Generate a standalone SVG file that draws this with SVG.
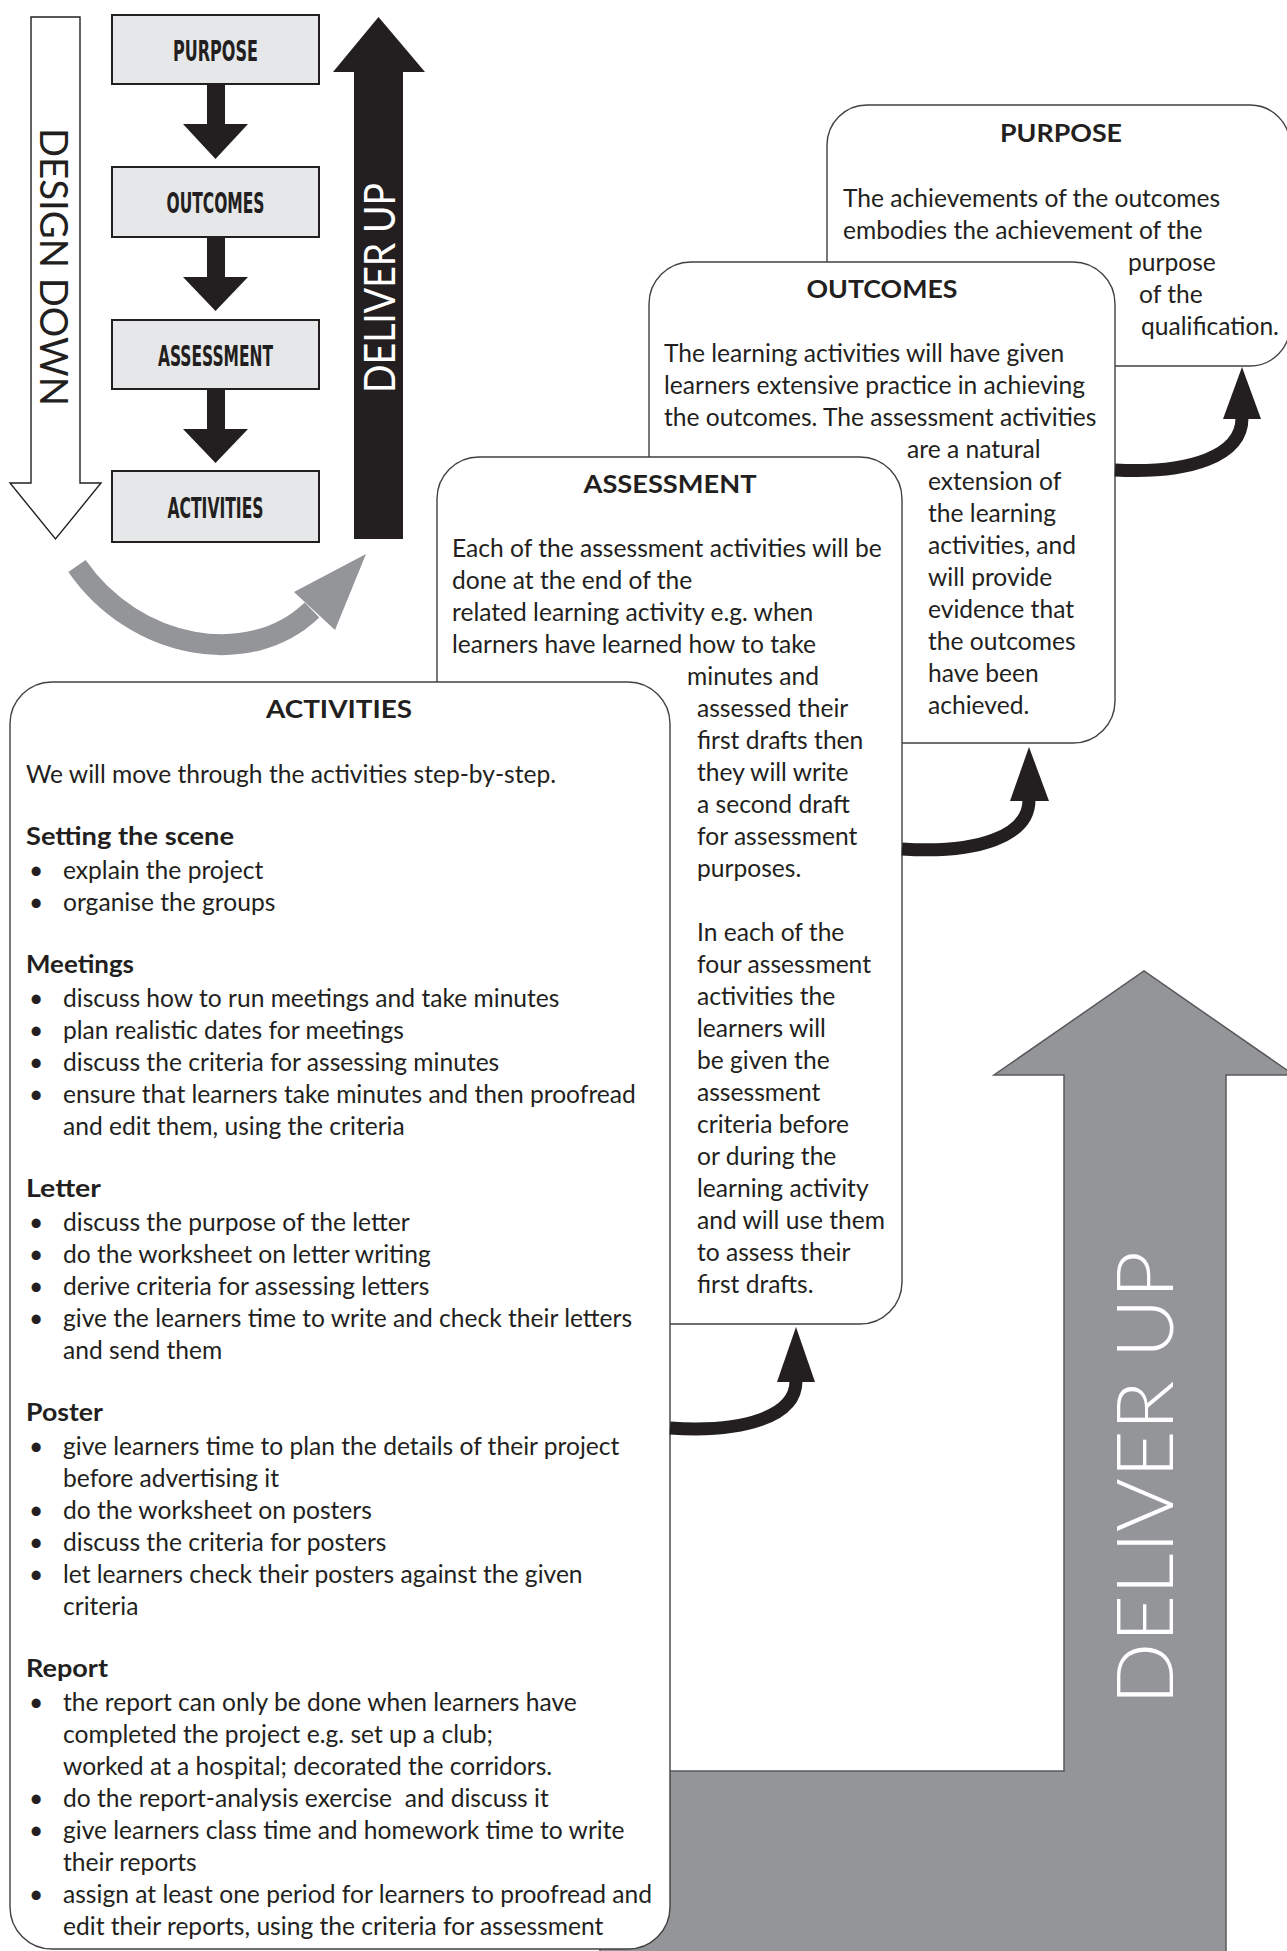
<svg xmlns="http://www.w3.org/2000/svg" width="1287" height="1951" viewBox="0 0 1287 1951">
<defs>
<style>
.lbl{font-family:"DejaVu Sans Condensed","DejaVu Sans",sans-serif;font-size:29px;font-weight:bold;fill:#231f20;text-anchor:middle}
.sbox{fill:#e6e7e8;stroke:#231f20;stroke-width:2}
.dk{fill:#231f20}
.card{fill:#ffffff;stroke:#414042;stroke-width:1.4}
.t{font-family:Lato,"Open Sans",sans-serif;font-size:24.6px;fill:#231f20}
.b{font-family:Lato,"Open Sans",sans-serif;font-size:25px;font-weight:bold;fill:#231f20}
.ttl{text-anchor:middle}
.big{font-family:Lato,"Open Sans",sans-serif;text-anchor:middle}
.curve{fill:none;stroke:#231f20;stroke-width:13}
</style>
</defs>
<rect width="1287" height="1951" fill="#ffffff"/>

<g id="big-deliver-up">
<path d="M600 1771 L1064 1771 L1064 1075 L994 1075 L1144 971 L1294 1075 L1226 1075 L1226 1960 L600 1960 Z" fill="#939598" stroke="#58595b" stroke-width="1.5"/>
<text class="big" transform="translate(1173,1478) rotate(-90)" font-size="78" font-weight="300" fill="#ffffff" textLength="454" lengthAdjust="spacingAndGlyphs">DELIVER UP</text>
</g>

<g id="design-down">
<path d="M31 17 L80 17 L80 483 L101 483 L55.5 539 L10 483 L31 483 Z" fill="#ffffff" stroke="#231f20" stroke-width="1.4"/>
<text class="big" transform="translate(40,267) rotate(90)" font-size="39" fill="#231f20" textLength="278" lengthAdjust="spacingAndGlyphs">DESIGN DOWN</text>
</g>

<g id="deliver-up-small">
<path d="M354 539 L354 72 L333 72 L378.5 17 L425 72 L403 72 L403 539 Z" class="dk"/>
<text class="big" transform="translate(395,288) rotate(-90)" font-size="42" fill="#ffffff" textLength="210" lengthAdjust="spacingAndGlyphs">DELIVER UP</text>
</g>

<g id="box-purpose">
<rect class="sbox" x="112" y="15" width="207" height="69"/>
<text class="lbl" x="215.5" y="60.5" textLength="85" lengthAdjust="spacingAndGlyphs">PURPOSE</text>
</g>
<g id="box-outcomes">
<rect class="sbox" x="112" y="167" width="207" height="70"/>
<text class="lbl" x="215.5" y="213" textLength="98" lengthAdjust="spacingAndGlyphs">OUTCOMES</text>
</g>
<g id="box-assessment">
<rect class="sbox" x="112" y="320" width="207" height="69"/>
<text class="lbl" x="215.5" y="365.5" textLength="115" lengthAdjust="spacingAndGlyphs">ASSESSMENT</text>
</g>
<g id="box-activities">
<rect class="sbox" x="112" y="471" width="207" height="71"/>
<text class="lbl" x="215.5" y="517.5" textLength="96" lengthAdjust="spacingAndGlyphs">ACTIVITIES</text>
</g>

<g id="down-arrows">
<path class="dk" d="M207 84 L225 84 L225 124 L248 124 L215.5 159 L183 124 L207 124 Z"/>
<path class="dk" d="M207 237 L225 237 L225 277 L248 277 L215.5 311 L183 277 L207 277 Z"/>
<path class="dk" d="M207 389 L225 389 L225 429 L248 429 L215.5 463 L183 429 L207 429 Z"/>
</g>

<g id="gray-cycle-arrow">
<path d="M77 566 C135 650 250 670 312 610" fill="none" stroke="#939598" stroke-width="21"/>
<path d="M294 592 L366 554 L335 630 Z" fill="#939598"/>
</g>

<g id="card-purpose">
<rect class="card" x="827" y="105" width="463" height="261" rx="40"/>
<text class="b ttl" x="1061" y="142" textLength="122" lengthAdjust="spacingAndGlyphs">PURPOSE</text>
<g transform="translate(0,2)">
<text class="t" x="843" y="205">The achievements of the outcomes</text>
<text class="t" x="843" y="237">embodies the achievement of the</text>
<text class="t" x="1128" y="269">purpose</text>
<text class="t" x="1139" y="301">of the</text>
<text class="t" x="1141" y="333">qualification.</text>
</g>
</g>

<g id="card-outcomes">
<rect class="card" x="649" y="262" width="466" height="481" rx="42"/>
<text class="b ttl" x="882" y="298" textLength="151" lengthAdjust="spacingAndGlyphs">OUTCOMES</text>
<g transform="translate(0,2)">
<text class="t" x="664" y="360">The learning activities will have given</text>
<text class="t" x="664" y="392">learners extensive practice in achieving</text>
<text class="t" x="664" y="424">the outcomes. The assessment activities</text>
<text class="t" x="907" y="456">are a natural</text>
<text class="t" x="928" y="488">extension of</text>
<text class="t" x="928" y="520">the learning</text>
<text class="t" x="928" y="552">activities, and</text>
<text class="t" x="928" y="584">will provide</text>
<text class="t" x="928" y="616">evidence that</text>
<text class="t" x="928" y="648">the outcomes</text>
<text class="t" x="928" y="680">have been</text>
<text class="t" x="928" y="712">achieved.</text>
</g>
</g>

<g id="card-assessment">
<rect class="card" x="437" y="457" width="465" height="867" rx="42"/>
<text class="b ttl" x="670" y="493" textLength="173" lengthAdjust="spacingAndGlyphs">ASSESSMENT</text>
<g transform="translate(0,2)">
<text class="t" x="452" y="555">Each of the assessment activities will be</text>
<text class="t" x="452" y="587">done at the end of the</text>
<text class="t" x="452" y="619">related learning activity e.g. when</text>
<text class="t" x="452" y="651">learners have learned how to take</text>
<text class="t" x="687" y="683">minutes and</text>
<text class="t" x="697" y="715">assessed their</text>
<text class="t" x="697" y="747">first drafts then</text>
<text class="t" x="697" y="779">they will write</text>
<text class="t" x="697" y="811">a second draft</text>
<text class="t" x="697" y="843">for assessment</text>
<text class="t" x="697" y="875">purposes.</text>
<text class="t" x="697" y="939">In each of the</text>
<text class="t" x="697" y="971">four assessment</text>
<text class="t" x="697" y="1003">activities the</text>
<text class="t" x="697" y="1035">learners will</text>
<text class="t" x="697" y="1067">be given the</text>
<text class="t" x="697" y="1099">assessment</text>
<text class="t" x="697" y="1131">criteria before</text>
<text class="t" x="697" y="1163">or during the</text>
<text class="t" x="697" y="1195">learning activity</text>
<text class="t" x="697" y="1227">and will use them</text>
<text class="t" x="697" y="1259">to assess their</text>
<text class="t" x="697" y="1291">first drafts.</text>
</g>
</g>

<g id="card-activities">
<rect class="card" x="10" y="682" width="660" height="1267" rx="42"/>
<text class="b ttl" x="339" y="718" textLength="146" lengthAdjust="spacingAndGlyphs">ACTIVITIES</text>
<text class="b" x="26" y="845" textLength="208" lengthAdjust="spacingAndGlyphs">Setting the scene</text>
<text class="b" x="26" y="973" textLength="108" lengthAdjust="spacingAndGlyphs">Meetings</text>
<text class="b" x="26" y="1197" textLength="75" lengthAdjust="spacingAndGlyphs">Letter</text>
<text class="b" x="26" y="1421" textLength="77" lengthAdjust="spacingAndGlyphs">Poster</text>
<text class="b" x="26" y="1677" textLength="82" lengthAdjust="spacingAndGlyphs">Report</text>
<g transform="translate(0,2.5)">
<text class="t" x="26" y="780">We will move through the activities step-by-step.</text>
<text class="t" x="29" y="876">•</text><text class="t" x="63" y="876">explain the project</text>
<text class="t" x="29" y="908">•</text><text class="t" x="63" y="908">organise the groups</text>
<text class="t" x="29" y="1004">•</text><text class="t" x="63" y="1004">discuss how to run meetings and take minutes</text>
<text class="t" x="29" y="1036">•</text><text class="t" x="63" y="1036">plan realistic dates for meetings</text>
<text class="t" x="29" y="1068">•</text><text class="t" x="63" y="1068">discuss the criteria for assessing minutes</text>
<text class="t" x="29" y="1100">•</text><text class="t" x="63" y="1100">ensure that learners take minutes and then proofread</text>
<text class="t" x="63" y="1132">and edit them, using the criteria</text>
<text class="t" x="29" y="1228">•</text><text class="t" x="63" y="1228">discuss the purpose of the letter</text>
<text class="t" x="29" y="1260">•</text><text class="t" x="63" y="1260">do the worksheet on letter writing</text>
<text class="t" x="29" y="1292">•</text><text class="t" x="63" y="1292">derive criteria for assessing letters</text>
<text class="t" x="29" y="1324">•</text><text class="t" x="63" y="1324">give the learners time to write and check their letters</text>
<text class="t" x="63" y="1356">and send them</text>
<text class="t" x="29" y="1452">•</text><text class="t" x="63" y="1452">give learners time to plan the details of their project</text>
<text class="t" x="63" y="1484">before advertising it</text>
<text class="t" x="29" y="1516">•</text><text class="t" x="63" y="1516">do the worksheet on posters</text>
<text class="t" x="29" y="1548">•</text><text class="t" x="63" y="1548">discuss the criteria for posters</text>
<text class="t" x="29" y="1580">•</text><text class="t" x="63" y="1580">let learners check their posters against the given</text>
<text class="t" x="63" y="1612">criteria</text>
<text class="t" x="29" y="1708">•</text><text class="t" x="63" y="1708">the report can only be done when learners have</text>
<text class="t" x="63" y="1740">completed the project e.g. set up a club;</text>
<text class="t" x="63" y="1772">worked at a hospital; decorated the corridors.</text>
<text class="t" x="29" y="1804">•</text><text class="t" x="63" y="1804" xml:space="preserve">do the report-analysis exercise  and discuss it</text>
<text class="t" x="29" y="1836">•</text><text class="t" x="63" y="1836">give learners class time and homework time to write</text>
<text class="t" x="63" y="1868">their reports</text>
<text class="t" x="29" y="1900">•</text><text class="t" x="63" y="1900">assign at least one period for learners to proofread and</text>
<text class="t" x="63" y="1932">edit their reports, using the criteria for assessment</text>
</g>
</g>

<g id="connectors">
<path class="curve" d="M670 1428 C745 1433 796 1416 796 1381"/>
<path class="dk" d="M777 1382 L815 1382 L796 1327 Z"/>
<path class="curve" d="M902 849 C978 854 1029 836 1029 800"/>
<path class="dk" d="M1010 801 L1049 801 L1029 747 Z"/>
<path class="curve" d="M1115 470 C1190 474 1242 456 1242 418"/>
<path class="dk" d="M1223 419 L1261 419 L1242 367 Z"/>
</g>
</svg>
